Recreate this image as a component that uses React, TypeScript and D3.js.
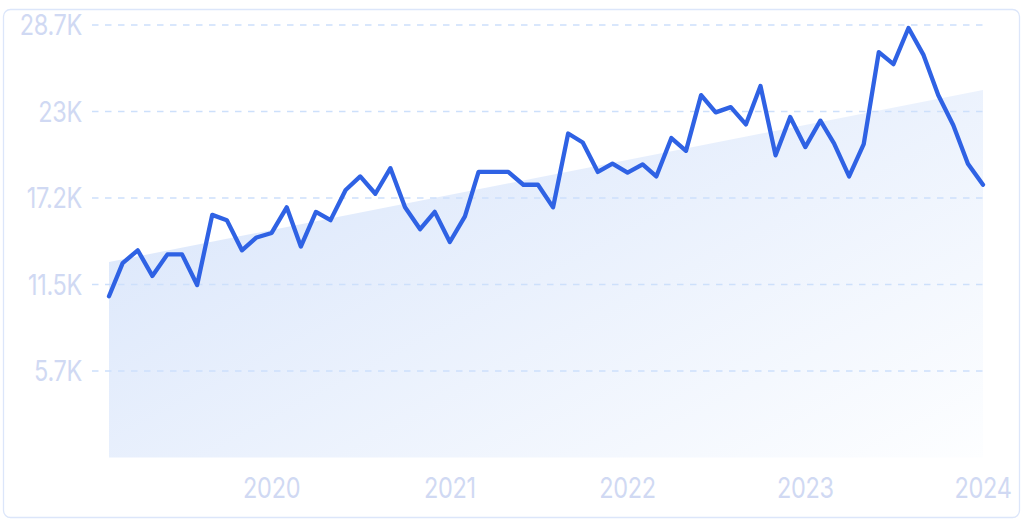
import React from "react";
import * as d3 from "d3";

const startMonth = new Date(2019, 1, 1);
const values: number[] = [
  10700, 12900, 13750, 12050, 13480, 13480, 11450, 16100, 15750, 13750,
  14600, 14900, 16600, 14000, 16300, 15750, 17750, 18650, 17500, 19200,
  16600, 15150, 16300, 14300, 16000, 18950, 18950, 18950, 18100, 18100,
  16600, 21500, 20900, 18950, 19500, 18900, 19450, 18650, 21200, 20350,
  24050, 22900, 23250, 22100, 24650, 20050, 22600, 20600, 22350, 20850,
  18650, 20800, 26900, 26100, 28500, 26700, 24050, 22050, 19500, 18100,
];
const trendValues: number[] = [12970, 24390];
const yTicks: number[] = [5740, 11480, 17220, 22960, 28700];
const yTickLabels: string[] = ["5.7K", "11.5K", "17.2K", "23K", "28.7K"];
const xTickYears: number[] = [2020, 2021, 2022, 2023, 2024];

const W = 1024;
const H = 523;

export default function App() {
  const dates = values.map((_, i) => d3.timeMonth.offset(startMonth, i));
  const x = d3.scaleTime().domain([dates[0], dates[dates.length - 1]]).range([109, 983]);
  const y = d3.scaleLinear().domain([0, 28700]).range([457.5, 25]);

  const line = d3
    .line<number>()
    .x((_, i) => x(dates[i]))
    .y((d) => y(d))
    .curve(d3.curveLinear);

  const trendDates = [dates[0], dates[dates.length - 1]];
  const area = d3
    .area<number>()
    .x((_, i) => x(trendDates[i]))
    .y0(y(0))
    .y1((d) => y(d));

  const labelColor = "#d0d9f3";
  const font = "Inter, 'Noto Sans', sans-serif";

  return (
    <svg
      width={W}
      height={H}
      style={{ position: "fixed", left: 0, top: 0, display: "block" }}
    >
      <defs>
        <linearGradient id="trendFill" x1="0" y1="0.2" x2="1" y2="1">
          <stop offset="0%" stopColor="#dae6fb" />
          <stop offset="100%" stopColor="#fdfeff" />
        </linearGradient>
      </defs>
      <rect x={0} y={0} width={W} height={H} fill="#ffffff" />
      <rect
        x={3.5}
        y={9.5}
        width={1016}
        height={508}
        rx={7}
        fill="#ffffff"
        stroke="#dce6fa"
        strokeWidth={1.3}
      />
      <path d={area(trendValues) || ""} fill="url(#trendFill)" />
      {yTicks.map((t, i) => (
        <g key={t}>
          <line
            x1={92}
            x2={983}
            y1={y(t)}
            y2={y(t)}
            stroke="#cde0fb"
            strokeWidth={1.3}
            strokeDasharray="6.5,6.5"
          />
          <text
            transform={`translate(82,${y(t)}) scale(1,1.22)`}
            textAnchor="end"
            dominantBaseline="central"
            fontFamily={font}
            fontSize={23.5}
            letterSpacing={-0.3}
            fill={labelColor}
          >
            {yTickLabels[i]}
          </text>
        </g>
      ))}
      {xTickYears.map((yr) => (
        <text
          key={yr}
          transform={`translate(${x(new Date(yr, 0, 1))},${488}) scale(1,1.22)`}
          textAnchor="middle"
          dominantBaseline="central"
          fontFamily={font}
          fontSize={23.5}
          letterSpacing={-0.3}
          fill={labelColor}
        >
          {yr}
        </text>
      ))}
      <path
        d={line(values) || ""}
        fill="none"
        stroke="#2f62e4"
        strokeWidth={4.3}
        strokeLinejoin="round"
        strokeLinecap="round"
      />
    </svg>
  );
}
